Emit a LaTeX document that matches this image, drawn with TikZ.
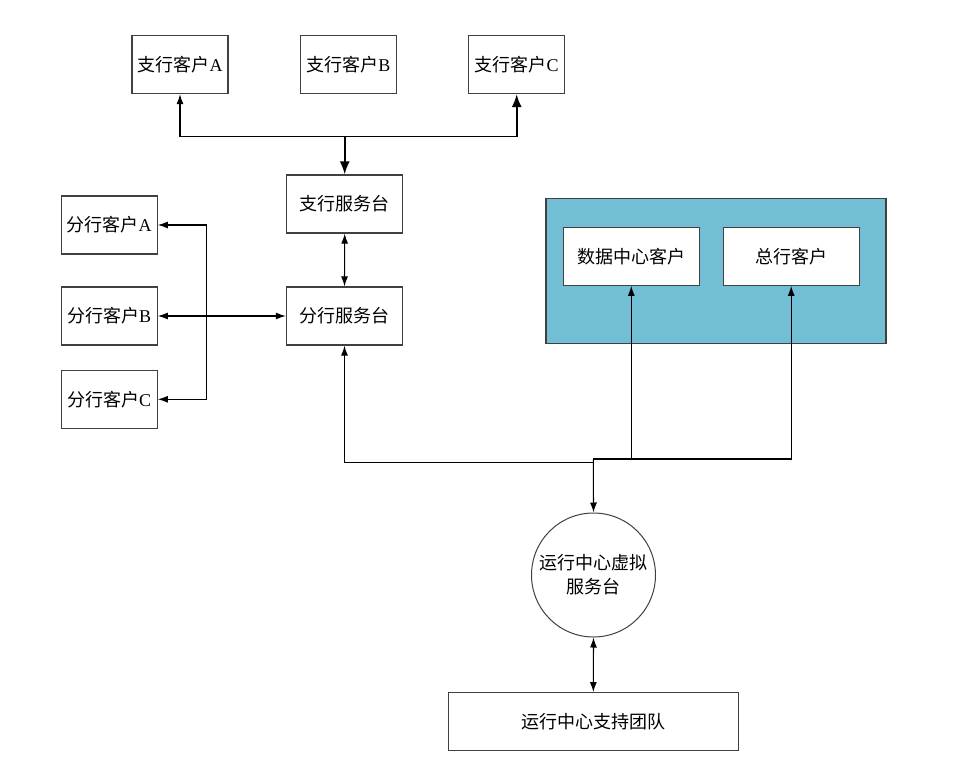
\documentclass[tikz,border=0pt]{standalone}
\usepackage{fontspec}
\setmainfont{Liberation Serif}
\newfontfamily\cjk{Noto Sans CJK SC}
\usetikzlibrary{arrows.meta}
\definecolor{tealbg}{RGB}{114,190,212}
\definecolor{boxline}{RGB}{64,64,64}
\tikzset{
  box/.style={draw=boxline, line width=1.3pt, fill=white, rectangle, minimum height=58pt, inner sep=0pt, font=\fontsize{18}{21}\selectfont},
  conn/.style={line width=1.1pt, draw=black},
  tip/.style={-{Latex[length=10pt,width=7pt]}},
  bitip/.style={{Latex[length=10pt,width=7pt]}-{Latex[length=10pt,width=7pt]}},
  bigtip/.style={-{Latex[length=13pt,width=10pt]}, line width=1.7pt},
}
\begin{document}
\begin{tikzpicture}[x=1pt,y=-1pt]
\useasboundingbox (0,0) rectangle (970,763);
% nodes
\node[box, minimum width=96pt] (zA) at (180,64.5) {{\cjk 支行客户}A};
\node[box, minimum width=96pt] (zB) at (348.3,64.5) {{\cjk 支行客户}B};
\node[box, minimum width=96pt] (zC) at (516.7,64.5) {{\cjk 支行客户}C};
\node[box, minimum width=116pt] (zfwt) at (344.7,204) {\cjk 支行服务台};
\node[box, minimum width=116pt] (ffwt) at (344.5,316) {\cjk 分行服务台};
\node[box, minimum width=96pt] (fA) at (109.2,225) {{\cjk 分行客户}A};
\node[box, minimum width=96pt] (fB) at (109.2,316) {{\cjk 分行客户}B};
\node[box, minimum width=96pt] (fC) at (109.2,399.3) {{\cjk 分行客户}C};
\node[draw=boxline, line width=1.3pt, fill=tealbg, rectangle, minimum width=340pt, minimum height=145pt] (teal) at (716,270.8) {};
\node[box, minimum width=136pt] (dc) at (631.3,256.2) {\cjk 数据中心客户};
\node[box, minimum width=136pt] (zh) at (791.2,256.2) {\cjk 总行客户};
\node[draw=boxline, line width=1pt, circle, minimum size=124pt, inner sep=0pt, align=center, font=\fontsize{18}{24}\selectfont\cjk] (circ) at (593.5,575) {运行中心虚拟\\服务台};
\node[box, minimum width=290pt] (team) at (593.3,721.7) {\cjk 运行中心支持团队};
% junction coordinates
\coordinate (j1) at (344.7,136.5);
\coordinate (vf) at (206.7,316);
\coordinate (j2) at (593.3,459);
\coordinate (j3) at (593.3,462.3);
% connectors
\draw[conn, bigtip] (j1) -- (zfwt.north);
\draw[conn, tip] (j1) -| (zA.south);
\draw[conn, bigtip] (j1) -| (zC.south);
\draw[conn, bitip] (zfwt.south) -- (ffwt.north);
\draw[conn, bitip] (fB.east) -- (ffwt.west);
\draw[conn, tip] (vf) |- (fA.east);
\draw[conn, tip] (vf) |- (fC.east);
\draw[conn, tip] (j3) -| (ffwt.south);
\draw[conn, tip] (j2) -| (dc.south);
\draw[conn, tip] (j2) -| (zh.south);
\draw[conn, tip] (j2) -- (circ.north);
\draw[conn, bitip] (circ.south) -- (team.north);
\end{tikzpicture}
\end{document}
